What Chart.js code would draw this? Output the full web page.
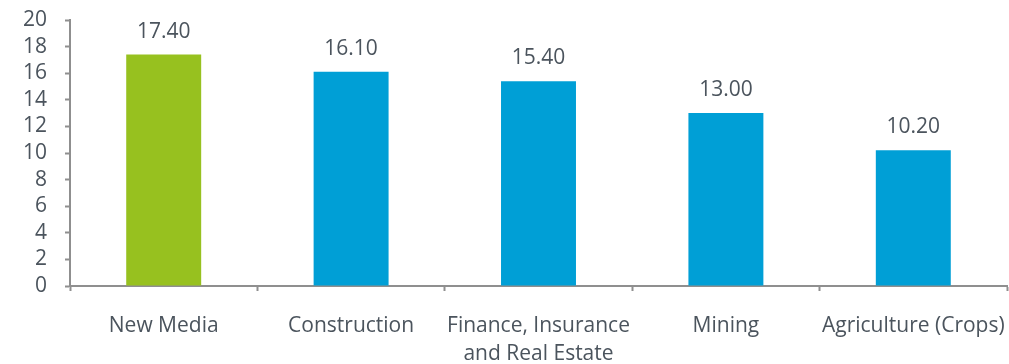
<!DOCTYPE html>
<html>
<head>
<meta charset="utf-8">
<script src="https://cdn.jsdelivr.net/npm/chart.js@4/dist/chart.umd.min.js"></script>
<style>
  html, body { margin: 0; padding: 0; background: #fff; }
  #wrap { width: 1009px; height: 364px; position: relative; }
</style>
</head>
<body>
<div id="wrap"><canvas id="c"></canvas></div>
<script>
// Industry categories and their values
const categories = ['New Media', 'Construction', ['Finance, Insurance', 'and Real Estate'], 'Mining', 'Agriculture (Crops)'];
const values = [17.4, 16.1, 15.4, 13.0, 10.2];
const barColors = ['#97c11f', '#009fd6', '#009fd6', '#009fd6', '#009fd6'];
const yTicks = [0, 2, 4, 6, 8, 10, 12, 14, 16, 18, 20];

const textColor = '#4b545d';
const axisColor = '#8f8f8f';
const fontFamily = '"Open Sans", "Noto Sans", sans-serif';
const fontSize = 21;

// Writes each bar's value above it with two decimals
const valueLabels = {
  id: 'valueLabels',
  afterDatasetsDraw(chart) {
    const ctx = chart.ctx;
    const meta = chart.getDatasetMeta(0);
    ctx.save();
    ctx.font = fontSize + 'px ' + fontFamily;
    ctx.fillStyle = textColor;
    ctx.textAlign = 'center';
    ctx.textBaseline = 'alphabetic';
    meta.data.forEach((bar, i) => {
      ctx.fillText(values[i].toFixed(2), bar.x, bar.y - 17);
    });
    ctx.restore();
  }
};

new Chart(document.getElementById('c'), {
  type: 'bar',
  data: {
    labels: categories,
    datasets: [{
      data: values,
      backgroundColor: barColors,
      borderWidth: 0,
      barPercentage: 0.4,
      categoryPercentage: 1.0
    }]
  },
  options: {
    responsive: true,
    maintainAspectRatio: false,
    animation: false,
    layout: { padding: { top: 20, right: 2, left: 0, bottom: 0 } },
    plugins: { legend: { display: false }, tooltip: { enabled: false } },
    scales: {
      x: {
        offset: true,
        grid: {
          offset: true,
          drawOnChartArea: false,
          drawTicks: true,
          tickLength: 5,
          tickWidth: 2,
          tickColor: axisColor
        },
        border: { display: true, color: axisColor, width: 2 },
        ticks: {
          color: textColor,
          padding: 21,
          maxRotation: 0,
          autoSkip: false,
          font: { family: fontFamily, size: fontSize, lineHeight: 1.33 }
        },
        afterFit(scale) {
          scale.height = 78;
          scale.paddingLeft = 0;
          scale.paddingRight = 0;
        }
      },
      y: {
        min: 0,
        max: 20,
        afterBuildTicks(scale) { scale.ticks = yTicks.map(v => ({ value: v })); },
        grid: {
          drawOnChartArea: false,
          drawTicks: true,
          tickLength: 5,
          tickWidth: 2,
          tickColor: axisColor
        },
        border: { display: true, color: axisColor, width: 2 },
        ticks: {
          color: textColor,
          padding: 18,
          autoSkip: false,
          font: { family: fontFamily, size: fontSize }
        },
        afterFit(scale) {
          scale.width = 70;
          scale.paddingTop = 0;
          scale.paddingBottom = 0;
        }
      }
    }
  },
  plugins: [valueLabels]
});
</script>
</body>
</html>
